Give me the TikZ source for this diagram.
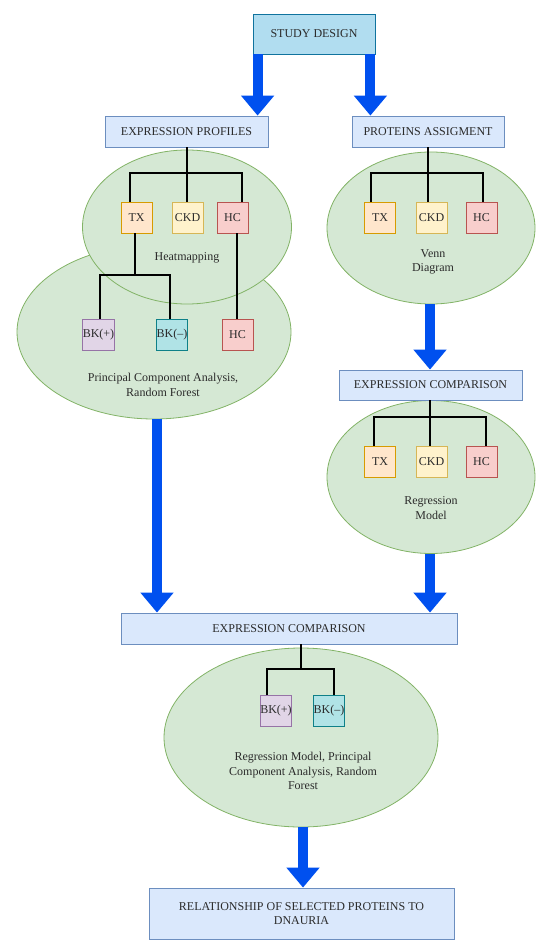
\documentclass[tikz,border=0pt]{standalone}
\usepackage{fontspec}
\setmainfont{Liberation Serif}
\usetikzlibrary{shapes.geometric, arrows.meta, positioning}

\definecolor{hdfill}{HTML}{DAE8FC}
\definecolor{hdline}{HTML}{6C8EBF}
\definecolor{sdfill}{HTML}{B1DDF0}
\definecolor{sdline}{HTML}{10739E}
\definecolor{grfill}{HTML}{D5E8D4}
\definecolor{grline}{HTML}{82B366}
\definecolor{txfill}{HTML}{FFE6CC}
\definecolor{txline}{HTML}{D79B00}
\definecolor{ckfill}{HTML}{FFF2CC}
\definecolor{ckline}{HTML}{D6B656}
\definecolor{hcfill}{HTML}{F8CECC}
\definecolor{hcline}{HTML}{B85450}
\definecolor{bpfill}{HTML}{E1D5E7}
\definecolor{bpline}{HTML}{9673A6}
\definecolor{bmfill}{HTML}{B0E3E6}
\definecolor{bmline}{HTML}{0E8088}
\definecolor{flow}{HTML}{0050EF}
\definecolor{ink}{HTML}{2B2B2B}

\begin{document}
\begin{tikzpicture}[
    x=1pt, y=-1pt,
    every node/.style={font=\fontsize{12}{14.5}\selectfont, text=ink},
    head/.style={rectangle, draw=hdline, fill=hdfill, line width=0.8pt, minimum height=31pt, inner sep=0pt, align=center},
    blob/.style={ellipse, draw=grline, fill=grfill, line width=0.8pt, inner sep=0pt},
    grp/.style={rectangle, line width=0.8pt, minimum width=31pt, minimum height=31pt, inner sep=0pt},
    tx/.style={grp, draw=txline, fill=txfill},
    ckd/.style={grp, draw=ckline, fill=ckfill},
    hc/.style={grp, draw=hcline, fill=hcfill},
    bkp/.style={grp, draw=bpline, fill=bpfill},
    bkm/.style={grp, draw=bmline, fill=bmfill},
    note/.style={align=center, inner sep=0pt},
    bus/.style={line width=1.8pt, black},
    bigarrow/.style={flow, line width=10pt, -{Triangle[width=32pt, length=20pt]}}
]
\useasboundingbox (0,0) rectangle (550,952);

% groups
\node[blob, minimum width=274pt, minimum height=174pt] (pca) at (154,332) {};
\node[blob, minimum width=209pt, minimum height=154pt] (heat) at (187,227) {};
\node[blob, minimum width=208pt, minimum height=152pt] (venn) at (431,228) {};
\node[blob, minimum width=208pt, minimum height=153pt] (regr) at (431,477) {};
\node[blob, minimum width=274pt, minimum height=179pt] (final) at (301,737.5) {};

\node[note] (heatlbl) at (187,258) {Heatmapping};
\node[note] (pcalbl) at (163,385) {Principal Component Analysis,\\Random Forest};
\node[note] (vennlbl) at (433,262) {Venn\\Diagram};
\node[note] (regrlbl) at (431,508) {Regression\\Model};
\node[note] (finallbl) at (303,771) {Regression Model, Principal\\Component Analysis, Random\\Forest};

% headers
\node[head, draw=sdline, fill=sdfill, minimum width=122pt, minimum height=40pt] (study) at (314,34) {STUDY DESIGN};
\node[head, minimum width=163pt] (expr) at (186.5,131.5) {EXPRESSION PROFILES};
\node[head, minimum width=152pt] (prot) at (428,131.5) {PROTEINS ASSIGMENT};
\node[head, minimum width=183pt, minimum height=30pt] (cmpr) at (430.5,385) {EXPRESSION COMPARISON};
\node[head, minimum width=336pt] (cmp) at (289,628.5) {EXPRESSION COMPARISON};
\node[head, minimum width=305pt, minimum height=51pt] (rel) at (301.5,913.5) {RELATIONSHIP OF SELECTED PROTEINS TO\\DNAURIA};

% left tree
\node[tx] (tx1) at (136.5,217.5) {TX};
\node[ckd] (ckd1) at (187.5,217.5) {CKD};
\node[hc] (hc1) at (232.5,217.5) {HC};
\node[bkp] (bkp1) at (98.5,334.5) {BK(+)};
\node[bkm] (bkm1) at (172,334.5) {BK(–)};
\node[hc] (hc2) at (237.5,334.5) {HC};
\coordinate (j1) at (187,173);
\coordinate (j2) at (135,275);
\draw[bus] ([xshift=0.5pt]expr.south) -- ([xshift=0.5pt]expr.south |- ckd1.north);
\draw[bus] ([xshift=-6.5pt]tx1.north) |- (j1) -| ([xshift=9.5pt]hc1.north);
\draw[bus] (j2) -- (j2 |- tx1.south);
\draw[bus] ([xshift=1.5pt]bkp1.north) |- (j2) -| ([xshift=-2pt]bkm1.north);
\draw[bus] ([xshift=-0.5pt]hc2.north) -- ([xshift=-0.5pt]hc2.north |- hc1.south);

% right tree
\node[tx] (tx2) at (380,217.5) {TX};
\node[ckd] (ckd2) at (431.5,217.5) {CKD};
\node[hc] (hc3) at (481.5,217.5) {HC};
\coordinate (j3) at (428,173);
\draw[bus] (prot.south) -- (prot.south |- ckd2.north);
\draw[bus] ([xshift=-9pt]tx2.north) |- (j3) -| ([xshift=1.5pt]hc3.north);

\node[tx] (tx3) at (380,461.5) {TX};
\node[ckd] (ckd3) at (431.5,461.5) {CKD};
\node[hc] (hc4) at (481.5,461.5) {HC};
\coordinate (j4) at (430,417);
\draw[bus] ([xshift=-0.5pt]cmpr.south) -- ([xshift=-0.5pt]cmpr.south |- ckd3.north);
\draw[bus] ([xshift=-6pt]tx3.north) |- (j4) -| ([xshift=4.5pt]hc4.north);

% bottom tree
\node[bkp] (bkp2) at (276,711) {BK(+)};
\node[bkm] (bkm2) at (329,711) {BK(–)};
\coordinate (j5) at (301,669);
\draw[bus] ([xshift=12pt]cmp.south) -- (j5);
\draw[bus] ([xshift=-9pt]bkp2.north) |- (j5) -| ([xshift=5pt]bkm2.north);

% flow arrows
\draw[bigarrow] ([xshift=5pt]study.south west) -- ([xshift=5pt]study.south west |- expr.north);
\draw[bigarrow] ([xshift=-5pt]study.south east) -- ([xshift=-5pt]study.south east |- prot.north);
\draw[bigarrow] ([xshift=-1pt]venn.south) -- ([xshift=-1pt]venn.south |- cmpr.north);
\draw[bigarrow] ([xshift=-1pt]regr.south) -- ([xshift=-1pt]regr.south |- cmp.north);
\draw[bigarrow] ([xshift=3pt]pca.south) -- ([xshift=3pt]pca.south |- cmp.north);
\draw[bigarrow] ([xshift=2pt]final.south) -- ([xshift=2pt]final.south |- rel.north);
\end{tikzpicture}
\end{document}
